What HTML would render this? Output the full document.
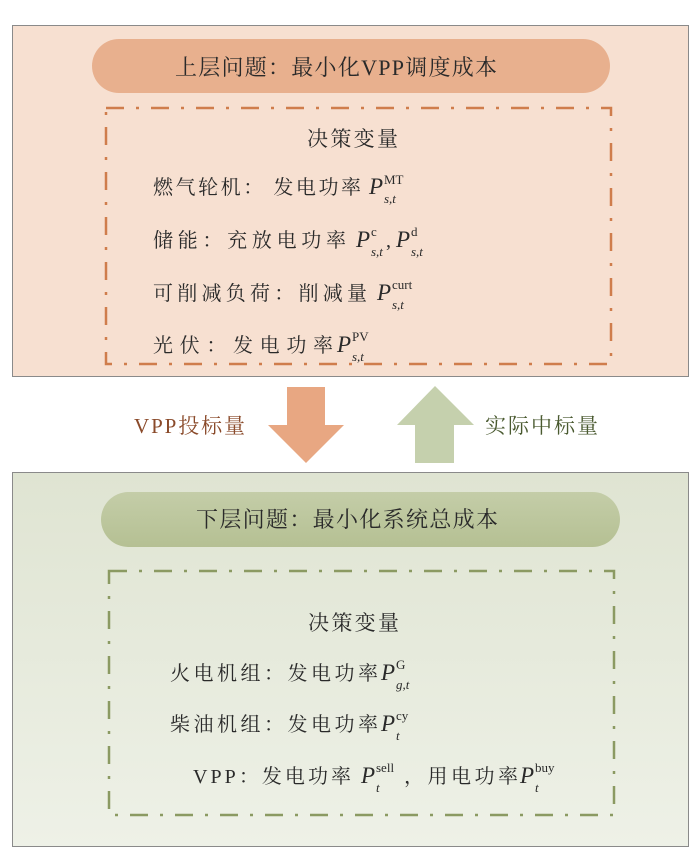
<!DOCTYPE html>
<html><head><meta charset="utf-8"><style>
body{margin:0;background:#fff;}
svg{display:block;}
text{font-family:"Liberation Serif","Noto Serif CJK SC",serif;fill:#2a2a2a;}
.i{font-style:italic;}
</style></head><body>
<svg width="700" height="862" viewBox="0 0 700 862" xmlns="http://www.w3.org/2000/svg">
<defs>
<linearGradient id="gb" x1="0" y1="0" x2="0" y2="1">
<stop offset="0" stop-color="#dfe4d2"/><stop offset="1" stop-color="#eef1e7"/></linearGradient>
<linearGradient id="gp" x1="0" y1="0" x2="0" y2="1">
<stop offset="0" stop-color="#c4cda8"/><stop offset="1" stop-color="#b5c093"/></linearGradient>
</defs>
<!-- top -->
<rect x="12.5" y="25.5" width="676" height="351" fill="#f7e0d1" stroke="#8a8a8a" stroke-width="1"/>
<rect x="92" y="39" width="518" height="54" rx="27" fill="#e8b08e"/>
<text x="175" y="75" font-size="22" textLength="322" lengthAdjust="spacing">上层问题：最小化VPP调度成本</text>
<rect x="106" y="108" width="505" height="256" fill="none" stroke="#cf7d4c" stroke-width="2.5" stroke-dasharray="18,12,3,12"/>
<text x="307" y="146" font-size="21" textLength="91" lengthAdjust="spacing">决策变量</text>
<g font-size="20">
<text x="153" y="194" textLength="208" lengthAdjust="spacing">燃气轮机： 发电功率</text>
<text x="369" y="194" class="i" font-size="23">P</text><text x="384" y="184" font-size="13">MT</text><text x="384" y="203" class="i" font-size="13">s,t</text>

<text x="153" y="247" textLength="193" lengthAdjust="spacing">储能：充放电功率</text>
<text x="356" y="247" class="i" font-size="23">P</text><text x="371" y="236" font-size="13">c</text><text x="371" y="256" class="i" font-size="13">s,t</text>
<text x="386" y="247" font-size="20">,</text>
<text x="396" y="247" class="i" font-size="23">P</text><text x="411" y="236" font-size="13">d</text><text x="411" y="256" class="i" font-size="13">s,t</text>

<text x="153" y="300" textLength="214" lengthAdjust="spacing">可削减负荷：削减量</text>
<text x="377" y="300" class="i" font-size="23">P</text><text x="392" y="289" font-size="13">curt</text><text x="392" y="309" class="i" font-size="13">s,t</text>

<text x="153" y="352" textLength="180" lengthAdjust="spacing">光伏：发电功率</text>
<text x="337" y="352" class="i" font-size="23">P</text><text x="352" y="341" font-size="13">PV</text><text x="352" y="361" class="i" font-size="13">s,t</text>
</g>
<!-- arrows -->
<polygon points="287,387 325,387 325,425 344,425 306,463 268,425 287,425" fill="#e8a782"/>
<polygon points="435,386 474,425 454,425 454,463 415,463 415,425 397,425" fill="#c5d0ad"/>
<text x="134" y="433" font-size="21" textLength="111" lengthAdjust="spacing" style="fill:#8a4a2a">VPP投标量</text>
<text x="485" y="433" font-size="21" textLength="113" lengthAdjust="spacing" style="fill:#4a5a30">实际中标量</text>
<!-- bottom -->
<rect x="12.5" y="472.5" width="676" height="374" fill="url(#gb)" stroke="#8a8a8a" stroke-width="1"/>
<rect x="101" y="492" width="519" height="55" rx="27.5" fill="url(#gp)"/>
<text x="196" y="527" font-size="22" textLength="302" lengthAdjust="spacing">下层问题：最小化系统总成本</text>
<rect x="109" y="571" width="505" height="244" fill="none" stroke="#8b9a62" stroke-width="2.5" stroke-dasharray="18,12,3,12"/>
<text x="308" y="630" font-size="21" textLength="91" lengthAdjust="spacing">决策变量</text>
<g font-size="20">
<text x="170" y="680" textLength="208" lengthAdjust="spacing">火电机组：发电功率</text>
<text x="381" y="680" class="i" font-size="23">P</text><text x="396" y="669" font-size="13">G</text><text x="396" y="689" class="i" font-size="13">g,t</text>

<text x="170" y="731" textLength="208" lengthAdjust="spacing">柴油机组：发电功率</text>
<text x="381" y="731" class="i" font-size="23">P</text><text x="396" y="720" font-size="13">cy</text><text x="396" y="740" class="i" font-size="13">t</text>

<text x="193" y="783" textLength="158" lengthAdjust="spacing">VPP：发电功率</text>
<text x="361" y="783" class="i" font-size="23">P</text><text x="376" y="772" font-size="13">sell</text><text x="376" y="792" class="i" font-size="13">t</text>
<text x="404" y="783" textLength="114" lengthAdjust="spacing">，用电功率</text>
<text x="520" y="783" class="i" font-size="23">P</text><text x="535" y="772" font-size="13">buy</text><text x="535" y="792" class="i" font-size="13">t</text>
</g>
</svg>
</body></html>
